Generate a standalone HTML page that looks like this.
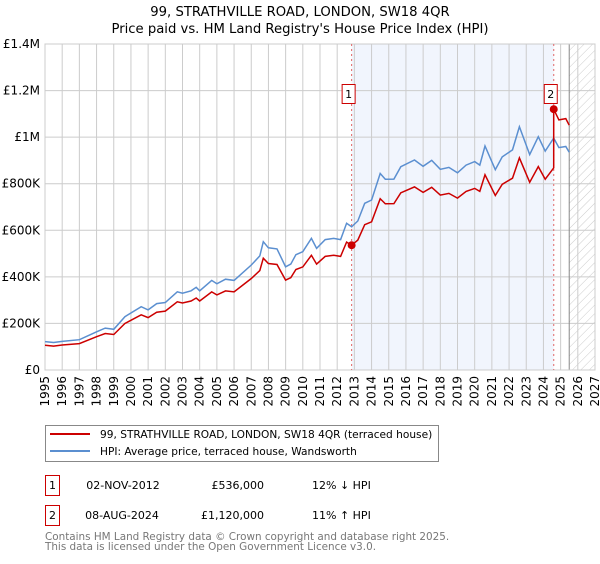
<!DOCTYPE html>
<html><head><meta charset="utf-8">
<style>
body{margin:0;background:#fff;font-family:"DejaVu Sans","Liberation Sans",sans-serif;}
svg text{font-family:"DejaVu Sans","Liberation Sans",sans-serif;}
</style></head>
<body>
<svg id="c" width="600" height="560" xmlns="http://www.w3.org/2000/svg">
<defs>
<pattern id="hatch" width="6" height="6" patternUnits="userSpaceOnUse" patternTransform="rotate(45)">
<line x1="0" y1="0" x2="0" y2="6" stroke="#ccc" stroke-width="1"/>
</pattern>
</defs>
<text x="300" y="16" text-anchor="middle" font-size="13.2">99, STRATHVILLE ROAD, LONDON, SW18 4QR</text>
<text x="300" y="33" text-anchor="middle" font-size="13.2">Price paid vs. HM Land Registry's House Price Index (HPI)</text>
<g id="plot"></g>
<g>
<rect x="45.5" y="425.5" width="393" height="36" fill="#fff" stroke="#888"/>
<line x1="50" y1="434" x2="90" y2="434" stroke="#cc0000" stroke-width="2"/>
<text x="100" y="438" font-size="10.6">99, STRATHVILLE ROAD, LONDON, SW18 4QR (terraced house)</text>
<line x1="50" y1="451" x2="90" y2="451" stroke="#5b8fd0" stroke-width="2"/>
<text x="100" y="455" font-size="10.6">HPI: Average price, terraced house, Wandsworth</text>
</g>
<g font-size="11">
<rect x="45.5" y="475.5" width="14" height="20" fill="#fff" stroke="#cc0000"/>
<text x="52.5" y="489" text-anchor="middle">1</text>
<text x="123" y="489" text-anchor="middle">02-NOV-2012</text>
<text x="264" y="489" text-anchor="end">£536,000</text>
<text x="312" y="489">12% ↓ HPI</text>
<rect x="45.5" y="505.5" width="14" height="20" fill="#fff" stroke="#cc0000"/>
<text x="52.5" y="519" text-anchor="middle">2</text>
<text x="122" y="519" text-anchor="middle">08-AUG-2024</text>
<text x="264" y="519" text-anchor="end">£1,120,000</text>
<text x="312" y="519">11% ↑ HPI</text>
</g>
<text x="45" y="540" font-size="10.4" fill="#777">Contains HM Land Registry data © Crown copyright and database right 2025.</text>
<text x="45" y="550" font-size="10.4" fill="#777">This data is licensed under the Open Government Licence v3.0.</text>
</svg>
<script>
const yTicks=[0,200000,400000,600000,800000,1000000,1200000,1400000];
const yTickLabels=["£0","£200K","£400K","£600K","£800K","£1M","£1.2M","£1.4M"];
const xTicks=[1995,1996,1997,1998,1999,2000,2001,2002,2003,2004,2005,2006,2007,2008,2009,2010,2011,2012,2013,2014,2015,2016,2017,2018,2019,2020,2021,2022,2023,2024,2025,2026,2027];
const hpiDates=[1995.0,1995.5,1996.0,1997.0,1998.0,1998.5,1999.0,1999.65,2000.6,2001.0,2001.5,2002.0,2002.7,2003.0,2003.5,2003.8,2004.0,2004.7,2005.0,2005.5,2006.0,2007.0,2007.5,2007.7,2008.0,2008.5,2009.0,2009.3,2009.6,2010.0,2010.5,2010.8,2011.3,2011.8,2012.2,2012.55,2012.84,2013.2,2013.6,2014.0,2014.5,2014.8,2015.3,2015.7,2016.5,2017.0,2017.5,2018.0,2018.5,2019.0,2019.5,2020.0,2020.3,2020.6,2021.2,2021.6,2022.2,2022.6,2023.2,2023.7,2024.1,2024.6,2024.9,2025.3,2025.5];
const hpiValues=[122000,118000,123000,130000,164000,180000,175000,229000,272000,258000,285000,290000,336000,330000,340000,355000,340000,385000,370000,390000,385000,451000,490000,551000,525000,520000,443000,455000,495000,508000,565000,522000,560000,565000,560000,630000,615000,640000,716000,730000,844000,819000,820000,873000,902000,875000,900000,862000,870000,847000,880000,895000,880000,962000,860000,915000,945000,1045000,925000,1002000,940000,996000,955000,960000,935000];
const saleDates=[2012.84,2024.6];
const salePrices=[536000,1120000];
const saleLabels=["1","2"];

const L=45,R=595,T=44,B=370,X0=1995,X1=2027,YMAX=1400000;
const xs=v=>L+(v-X0)/(X1-X0)*(R-L);
const ys=v=>B-v/YMAX*(B-T);
const NS="http://www.w3.org/2000/svg";
const g=document.getElementById('plot');
function mk(tag,attrs){const e=document.createElementNS(NS,tag);for(const k in attrs)e.setAttribute(k,attrs[k]);g.appendChild(e);return e;}
function hpiAt(d){for(let i=0;i<hpiDates.length-1;i++){if(d>=hpiDates[i]&&d<=hpiDates[i+1]){const f=(d-hpiDates[i])/(hpiDates[i+1]-hpiDates[i]);return hpiValues[i]+f*(hpiValues[i+1]-hpiValues[i]);}}return hpiValues[hpiValues.length-1];}

let bg=mk('rect',{x:L,y:T,width:R-L,height:B-T,fill:'#fff'});


let sh=mk('rect',{x:xs(saleDates[0]),y:T,width:xs(saleDates[1])-xs(saleDates[0]),height:B-T,fill:'#eef2fc',opacity:0.8});


const hatchStart=2025.5;
let ht=mk('rect',{x:xs(hatchStart),y:T,width:R-xs(hatchStart),height:B-T,fill:'url(#hatch)'});



yTicks.forEach((v,i)=>{
  let l=mk('line',{x1:L,x2:R,y1:ys(v),y2:ys(v),stroke:'#ccc','stroke-width':1});
  
  
  let t=mk('text',{x:L-5,y:ys(v)+4,'text-anchor':'end','font-size':12});
  t.textContent=yTickLabels[i];
  
  
});
xTicks.forEach(v=>{
  let l=mk('line',{x1:xs(v),x2:xs(v),y1:T,y2:B,stroke:'#ccc','stroke-width':1});
  
  
  let t=mk('text',{transform:`translate(${xs(v)+4},${B+6}) rotate(-90)`,'text-anchor':'end','font-size':12});
  t.textContent=String(v);
  
  
});
let vl=mk('line',{x1:xs(hatchStart),x2:xs(hatchStart),y1:T,y2:B,stroke:'#888','stroke-width':1});


let fr=mk('rect',{x:L,y:T,width:R-L,height:B-T,fill:'none',stroke:'#ccc'});



saleDates.forEach((d,i)=>{
  let l=mk('line',{x1:xs(d),x2:xs(d),y1:T,y2:B,stroke:'#e06666','stroke-width':1,'stroke-dasharray':'2,3'});
  
  
});

let hp=hpiDates.map((d,i)=>xs(d).toFixed(1)+','+ys(hpiValues[i]).toFixed(1)).join(' ');
let hl=mk('polyline',{points:hp,fill:'none',stroke:'#5b8fd0','stroke-width':1.5});



const ratios=saleDates.map((d,i)=>salePrices[i]/hpiAt(d));
let pts=[];let done2=false;
hpiDates.forEach((d,i)=>{
  if(d>saleDates[1]&&!done2){pts.push([saleDates[1],hpiAt(saleDates[1])*ratios[0]]);pts.push([saleDates[1],salePrices[1]]);done2=true;}
  const r=d>saleDates[1]?ratios[1]:ratios[0];
  pts.push([d,hpiValues[i]*r]);
});
let pl=mk('polyline',{points:pts.map(p=>xs(p[0]).toFixed(1)+','+ys(p[1]).toFixed(1)).join(' '),fill:'none',stroke:'#cc0000','stroke-width':1.5});



saleDates.forEach((d,i)=>{
  let c=mk('circle',{cx:xs(d),cy:ys(salePrices[i]),r:4,fill:'#cc0000'});
  
  
  const bx=xs(d)-10, by=T+40;
  let r=mk('rect',{x:bx+0.5,y:by+0.5,width:13,height:19,fill:'#fff',stroke:'#cc0000'});
  
  
  let t=mk('text',{x:bx+7,y:by+14,'text-anchor':'middle','font-size':11});
  t.textContent=saleLabels[i];
  
  
});
</script>
</body></html>
